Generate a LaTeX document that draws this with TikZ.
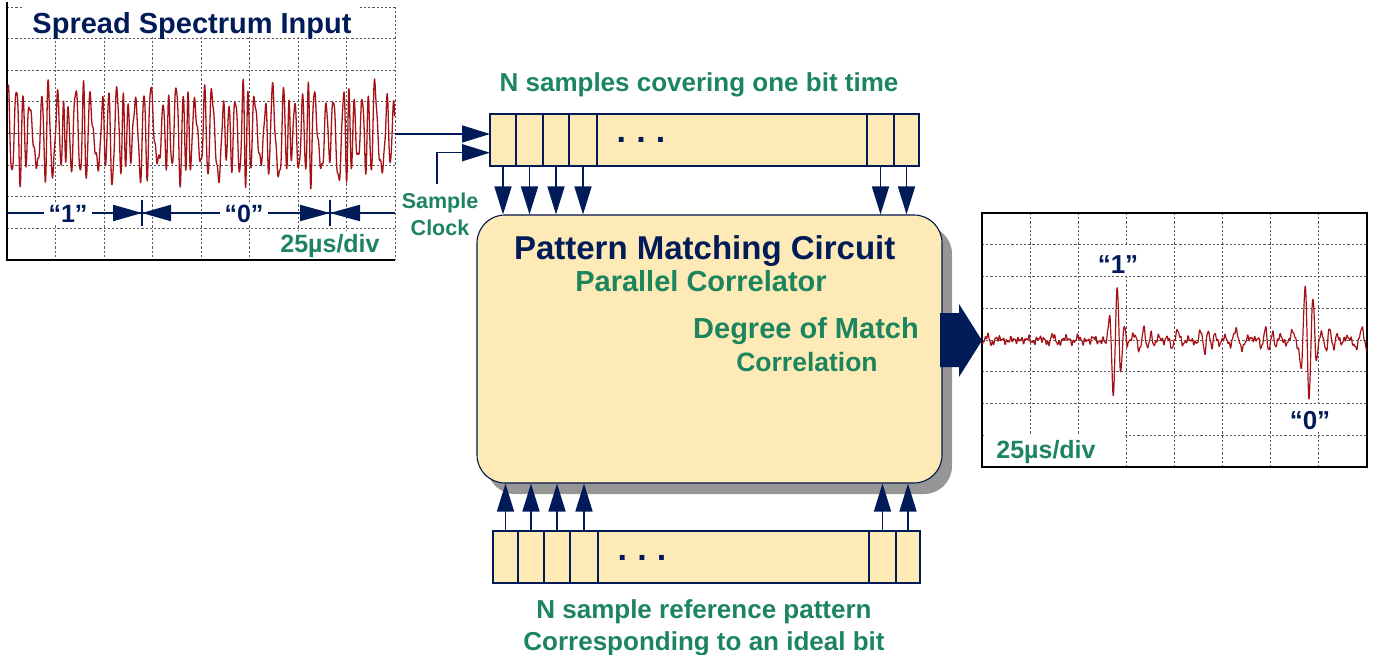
\documentclass[tikz,border=0pt]{standalone}
\usepackage{fontspec}
\setmainfont{Liberation Sans}
\usetikzlibrary{arrows.meta,shadows,calc}
\definecolor{navy}{RGB}{0,27,88}
\definecolor{tgreen}{RGB}{28,133,94}
\definecolor{cream}{RGB}{253,234,183}
\definecolor{sigred}{RGB}{165,18,22}
\definecolor{shadowgray}{RGB}{150,150,150}
\definecolor{gridgray}{RGB}{90,90,90}
\begin{document}
\begin{tikzpicture}[x=1pt,y=-1pt,
  fs/.style={font=\fontsize{#1}{#1}\selectfont\bfseries},
  lbl/.style={inner sep=0pt, anchor=base},
  gridline/.style={gridgray, line width=0.8pt, dash pattern=on 2.2pt off 2pt},
  frameline/.style={black, line width=1.3pt},
  sig/.style={sigred, line width=1.3pt, line join=round},
  cell/.style={draw=navy, fill=cream, line width=1.8pt, inner sep=0pt, minimum height=52pt},
  arr/.style={navy, line width=1.6pt, -{Triangle[length=28pt,width=17pt]}},
  bitmark/.style={navy, line width=1.5pt},
]
\useasboundingbox (0,0) rectangle (1373,655);

% ---------------- left oscilloscope ----------------
\node[minimum width=388pt, minimum height=253pt, inner sep=0pt, outer sep=0pt] (scopeL) at (201,133.5) {};
\foreach \i in {1,...,8} \draw[gridline] ({7+48.5*\i},7) -- ({7+48.5*\i},260);
\foreach \j in {0,...,7} \draw[gridline] (7,{7+31.625*\j}) -- (395,{7+31.625*\j});
\draw[frameline] (7,2) -- (7,260) -- (395,260);
\draw[sig] plot[domain=0:51.5, samples=1500, variable=\t]
  ({8+7.51*\t}, {133 - (38 + 9*sin(360*frac(0.23*\t)) + 5*sin(360*frac(0.57*\t+0.3)))
     *sin(360*frac(\t + 0.3*sin(360*frac(0.13*\t)) + 0.18*sin(360*frac(0.37*\t+0.2))))
     - 5*sin(360*frac(2.3*\t+0.1))});
\node[fill=white, minimum width=336pt, minimum height=30pt] at (192,22) {};
\node[lbl, text=navy, fs=29] at (192,33.4) {Spread Spectrum Input};
% bit markers
\draw[bitmark] (7,213) -- (395,213);
\fill[navy] (113,204.7) -- (142,213) -- (113,221.3) -- cycle;
\fill[navy] (171,204.7) -- (142,213) -- (171,221.3) -- cycle;
\draw[navy, line width=1.2pt] (142,200) -- (142,226);
\fill[navy] (300,204.7) -- (330,213) -- (300,221.3) -- cycle;
\fill[navy] (360,204.7) -- (330,213) -- (360,221.3) -- cycle;
\draw[navy, line width=1.2pt] (330,200) -- (330,226);
\node[fill=white, minimum width=48pt, minimum height=22pt] at (68,214) {};
\node[lbl, text=navy, fs=25] at (68,222.7) {“1”};
\node[fill=white, minimum width=48pt, minimum height=22pt] at (244,214) {};
\node[lbl, text=navy, fs=25] at (244,222.7) {“0”};
\node[fill=white, minimum width=110pt, minimum height=26pt] at (330,243.5) {};
\node[lbl, text=tgreen, fs=25] at (330,252.3) {25µs/div};

% ---------------- top register ----------------
\node[lbl, text=tgreen, fs=26] at (699,92) {N samples covering one bit time};
\node[cell, minimum width=26pt] (t1) at (503,140) {};
\node[cell, minimum width=27pt] (t2) at (529.5,140) {};
\node[cell, minimum width=26pt] (t3) at (556,140) {};
\node[cell, minimum width=28pt] (t4) at (583,140) {};
\node[cell, minimum width=270pt] (tdots) at (732,140) {};
\node[cell, minimum width=27pt] (t5) at (880.5,140) {};
\node[cell, minimum width=25pt] (t6) at (906.5,140) {};
\node[lbl, text=navy, fs=34] at (641,143) {.\hspace{0.3em}.\hspace{0.3em}.};

% ---------------- main box ----------------
\node[draw=navy!85!black, line width=1.1pt, fill=cream, rounded corners=28pt,
      minimum width=465pt, minimum height=268pt, inner sep=0pt,
      drop shadow={shadow xshift=10pt, shadow yshift=-11pt, fill=shadowgray, opacity=1}] (pm) at (709.5,349) {};
\node[lbl, text=navy, fs=33] at (704.7,259.3) {Pattern Matching Circuit};
\node[lbl, text=tgreen, fs=29] at (701,291.7) {Parallel Correlator};
\node[lbl, text=tgreen, fs=29] at (806,338.3) {Degree of Match};
\node[lbl, text=tgreen, fs=26.5] at (807,371.7) {Correlation};

% input and clock arrows
\coordinate (in1) at (490,134);
\coordinate (in2) at (490,152.7);
\coordinate (clk) at (437,184);
\draw[arr] (scopeL.east |- in1) -- (in1);
\draw[arr] (clk) |- (in2);
\node[align=center, text=tgreen, font=\fontsize{21.5}{27}\selectfont\bfseries, inner sep=0pt, anchor=north] (clklbl) at (440,192.5) {Sample\\Clock};

% down arrows
\foreach \c in {t1,t2,t3,t4,t5,t6} \draw[arr] (\c.south) -- (\c.south |- pm.north);

% ---------------- bottom register ----------------
\node[cell, minimum width=25pt] (b1) at (505.5,557) {};
\node[cell, minimum width=26pt] (b2) at (531,557) {};
\node[cell, minimum width=26pt] (b3) at (557,557) {};
\node[cell, minimum width=28pt] (b4) at (584,557) {};
\node[cell, minimum width=271pt] (bdots) at (733.5,557) {};
\node[cell, minimum width=27pt] (b5) at (882.5,557) {};
\node[cell, minimum width=24pt] (b6) at (908,557) {};
\node[lbl, text=navy, fs=34] at (642,560) {.\hspace{0.3em}.\hspace{0.3em}.};
\foreach \c in {b1,b2,b3,b4,b5,b6} \draw[arr] (\c.north) -- (\c.north |- pm.south);
\node[lbl, text=tgreen, fs=26] at (704,618.3) {N sample reference pattern};
\node[lbl, text=tgreen, fs=26] at (704,650) {Corresponding to an ideal bit};

% ---------------- right oscilloscope ----------------
\node[minimum width=385pt, minimum height=254pt, inner sep=0pt, outer sep=0pt] (scopeR) at (1174.5,340) {};
\foreach \i in {1,...,7} \draw[gridline] ({982+48.125*\i},213) -- ({982+48.125*\i},467);
\foreach \j in {1,...,7} \draw[gridline] (982,{213+31.75*\j}) -- (1367,{213+31.75*\j});
\draw[frameline] (982,213) rectangle (1367,467);
\draw[sig, line width=1.2pt] plot[domain=0:385, samples=1200, variable=\t]
  ({982+\t}, {340 + 1.8*sin(360*frac(\t/3.7)) + 1.3*sin(360*frac(\t/2.3+0.2))
     + (3+8*(\t>130))*(0.55+0.45*sin(360*frac(\t/31)))*sin(360*frac(\t/9.5+0.3*sin(360*frac(\t/57))))
     + 2.2*sin(360*frac(\t/13.3+0.4))
     - 55*(max(0,1-((\t-134.5)/14)*((\t-134.5)/14)))^3*cos(45*(\t-135))
     + 54*(max(0,1-((\t-327)/15)*((\t-327)/15)))^3*cos(45*(\t-327))});
% block output arrow
\fill[navy] (940,313) -- (959,313) -- (959,304) -- (scopeR.west |- 0,340.5) -- (959,377) -- (959,367) -- (940,367) -- cycle;
\node[fill=white, minimum width=83pt, minimum height=27pt] at (1123.5,260.5) {};
\node[lbl, text=navy, fs=26] at (1118,273.3) {“1”};
\node[fill=white, minimum width=87pt, minimum height=28pt] at (1319.5,418) {};
\node[lbl, text=navy, fs=26] at (1310,429.3) {“0”};
\node[fill=white, minimum width=140pt, minimum height=32pt] at (1053.5,450.5) {};
\draw[frameline] (982,433) -- (982,467) -- (1124,467);
\node[lbl, text=tgreen, fs=25] at (1046,458.3) {25µs/div};
\end{tikzpicture}
\end{document}
